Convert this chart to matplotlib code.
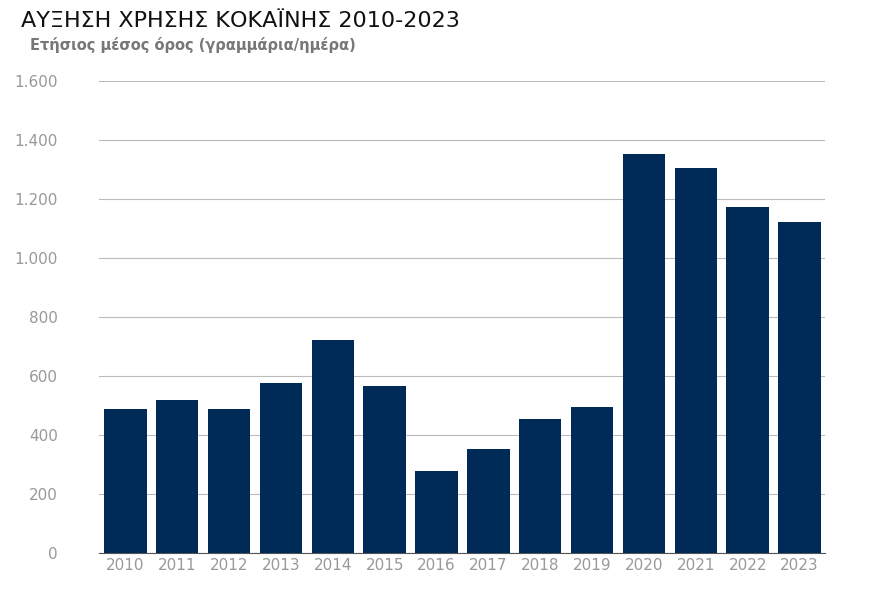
import matplotlib.pyplot as plt
from matplotlib.ticker import FuncFormatter

years = ["2010", "2011", "2012", "2013", "2014", "2015", "2016",
         "2017", "2018", "2019", "2020", "2021", "2022", "2023"]
values = [486, 517, 486, 576, 721, 565, 279, 352, 452, 493, 1352, 1303, 1172, 1121]

fig = plt.figure(figsize=(8.8, 5.9), dpi=100)
ax = fig.add_axes([0.113, 0.063, 0.825, 0.8])

ax.bar(years, values, width=0.82, color="#002b59", zorder=3)
ax.set_ylim(0, 1600)
ax.set_xlim(-0.5, 13.5)
ax.set_yticks(range(0, 1601, 200))
ax.yaxis.set_major_formatter(FuncFormatter(lambda v, p: f"{int(v):,}".replace(",", ".")))
ax.grid(axis="y", color="#bbbbbb", linewidth=0.8, zorder=0)
for s in ["top", "right", "left"]:
    ax.spines[s].set_visible(False)
ax.spines["bottom"].set_color("#555555")
ax.tick_params(axis="both", length=0, colors="#999999", labelsize=11)
ax.tick_params(axis="y", pad=30)

fig.text(0.024, 0.955, "ΑΥΞΗΣΗ ΧΡΗΣΗΣ ΚΟΚΑΪΝΗΣ 2010-2023", fontsize=16, color="#111111")
fig.text(0.034, 0.915, "Ετήσιος μέσος όρος (γραμμάρια/ημέρα)", fontsize=10.5,
         color="#777777", fontweight="bold")

fig.savefig("out.png", dpi=100)
